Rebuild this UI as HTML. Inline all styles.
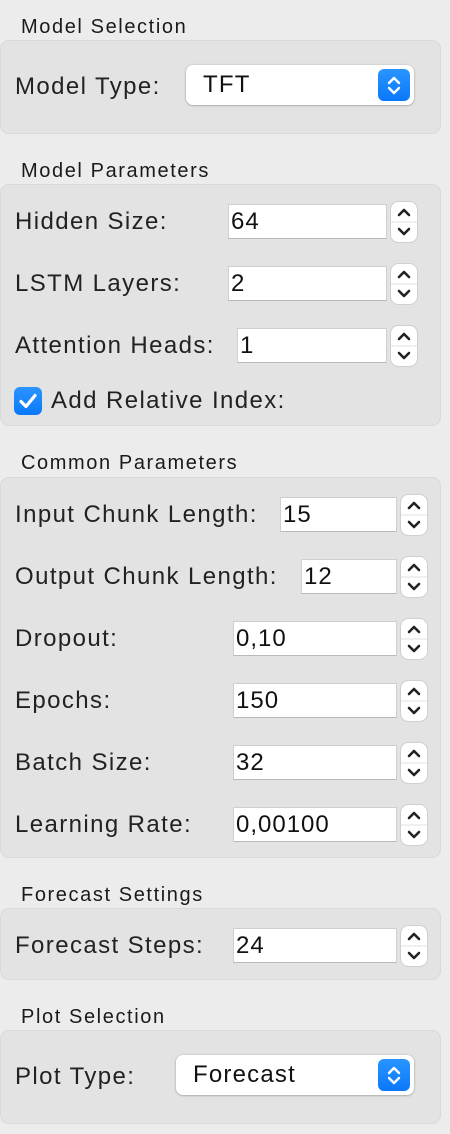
<!DOCTYPE html>
<html><head><meta charset="utf-8"><style>
body{margin:0;width:450px;height:1134px;background:#ececec;font-family:"Liberation Sans",sans-serif;position:relative;overflow:hidden;color:#1d1d1d}
.t{position:absolute;left:21px;font-size:20px;letter-spacing:1.6px;line-height:20px;color:#1a1a1a}
.box{position:absolute;left:0;width:441px;background:#e3e3e3;border:1px solid #d9d9d9;border-radius:9px;box-sizing:border-box}
.l{position:absolute;left:15px;font-size:24px;letter-spacing:1.4px;line-height:26px;color:#222}
.f{position:absolute;height:35px;background:#fff;border:1px solid #cfcfcf;border-bottom-color:#b8b8b8;box-sizing:border-box;font-size:24px;letter-spacing:1px;line-height:33px;padding-left:2px;color:#111}
.s{position:absolute;width:28px;height:42px}
.p{position:absolute;height:40px;background:#fff;border-radius:7px;box-shadow:0 0.5px 2px rgba(0,0,0,.35);font-size:24px;letter-spacing:1.2px;line-height:40px;padding-left:17px;box-sizing:border-box;color:#111}
.pb{position:absolute;right:4px;top:4px;width:32px;height:32px;border-radius:6px;background:linear-gradient(#2a95ff,#0a78fa)}
</style></head><body>
<div class="t" style="top:17px">Model Selection</div>
<div class="box" style="top:40px;height:94px"></div>
<div class="l" style="top:74px">Model Type:</div>
<div class="p" style="left:186px;top:65px;width:228px">TFT<div class="pb"><svg width="32" height="32"><path d="M11 14l5-5 5 5M11 19l5 5 5-5" stroke="#fff" stroke-width="2.4" fill="none" stroke-linecap="round" stroke-linejoin="round"/></svg></div></div>

<div class="t" style="top:161px">Model Parameters</div>
<div class="box" style="top:184px;height:242px"></div>
<div class="l" style="top:209px">Hidden Size:</div>
<div class="f" style="left:228px;top:204px;width:159px">64</div>
<div class="l" style="top:271px">LSTM Layers:</div>
<div class="f" style="left:228px;top:266px;width:159px">2</div>
<div class="l" style="top:333px">Attention Heads:</div>
<div class="f" style="left:237px;top:328px;width:150px">1</div>
<div style="position:absolute;left:14px;top:387px;width:28px;height:28px;border-radius:6px;background:linear-gradient(#2a95ff,#0a78fa)"><svg width="28" height="28"><path d="M7 14.5l5 5 9-11" stroke="#fff" stroke-width="3.2" fill="none" stroke-linecap="round" stroke-linejoin="round"/></svg></div>
<div class="l" style="left:51px;top:388px">Add Relative Index:</div>

<div class="t" style="top:453px">Common Parameters</div>
<div class="box" style="top:477px;height:381px"></div>
<div class="l" style="top:502px">Input Chunk Length:</div>
<div class="f" style="left:280px;top:497px;width:117px">15</div>
<div class="l" style="top:564px">Output Chunk Length:</div>
<div class="f" style="left:301px;top:559px;width:96px">12</div>
<div class="l" style="top:626px">Dropout:</div>
<div class="f" style="left:233px;top:621px;width:164px">0,10</div>
<div class="l" style="top:688px">Epochs:</div>
<div class="f" style="left:233px;top:683px;width:164px">150</div>
<div class="l" style="top:750px">Batch Size:</div>
<div class="f" style="left:233px;top:745px;width:164px">32</div>
<div class="l" style="top:812px">Learning Rate:</div>
<div class="f" style="left:233px;top:807px;width:164px">0,00100</div>

<div class="t" style="top:885px">Forecast Settings</div>
<div class="box" style="top:908px;height:72px"></div>
<div class="l" style="top:933px">Forecast Steps:</div>
<div class="f" style="left:233px;top:928px;width:164px">24</div>

<div class="t" style="top:1007px">Plot Selection</div>
<div class="box" style="top:1030px;height:94px"></div>
<div class="l" style="top:1064px">Plot Type:</div>
<div class="p" style="left:176px;top:1055px;width:238px">Forecast<div class="pb"><svg width="32" height="32"><path d="M11 14l5-5 5 5M11 19l5 5 5-5" stroke="#fff" stroke-width="2.4" fill="none" stroke-linecap="round" stroke-linejoin="round"/></svg></div></div>

<script>
const steppers=[[390,201,'hidden-size'],[390,263,'lstm-layers'],[390,325,'attention-heads'],[400,494,'input-chunk-length'],[400,556,'output-chunk-length'],[400,618,'dropout'],[400,680,'epochs'],[400,742,'batch-size'],[400,804,'learning-rate'],[400,925,'forecast-steps']];
for(const [x,y,n] of steppers){
  const d=document.createElement('div');
  d.className='s';
  d.style.left=x+'px';d.style.top=y+'px';
  
  
  d.innerHTML='<svg width="28" height="42"><rect x="0.5" y="0.5" width="27" height="41" rx="8" fill="#fff" stroke="#d0d0d0"/><line x1="1" y1="21" x2="27" y2="21" stroke="#e2e2e2"/><path d="M9 14l5-5 5 5" stroke="#222" stroke-width="2.6" fill="none" stroke-linecap="round" stroke-linejoin="round"/><path d="M9 28l5 5 5-5" stroke="#222" stroke-width="2.6" fill="none" stroke-linecap="round" stroke-linejoin="round"/></svg>';
  document.body.appendChild(d);
}
</script>
</body></html>
